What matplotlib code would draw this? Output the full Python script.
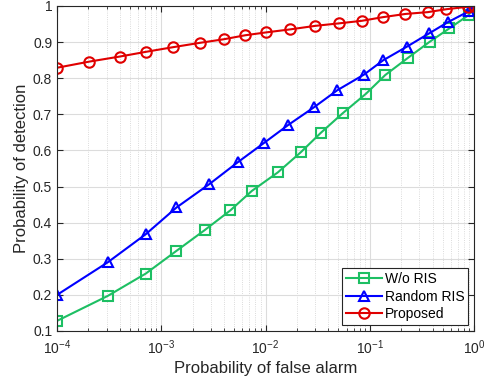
import numpy as np
import matplotlib.pyplot as plt

plt.rcParams['font.family'] = ['Liberation Sans', 'DejaVu Sans']
plt.rcParams['mathtext.fontset'] = 'custom'
plt.rcParams['mathtext.rm'] = 'Liberation Sans'
plt.rcParams['mathtext.it'] = 'Liberation Sans:italic'
plt.rcParams['mathtext.bf'] = 'Liberation Sans:bold'

# Probability of false alarm values
pfa_wo = [1e-4, 3.06e-4, 7.1e-4, 1.4e-3, 2.6e-3, 4.6e-3, 7.4e-3, 0.0131, 0.0218,
          0.034, 0.055, 0.092, 0.141, 0.234, 0.376, 0.58, 0.89, 1.0]
pd_wo = [0.128, 0.197, 0.259, 0.322, 0.379, 0.434, 0.488, 0.539, 0.595,
         0.649, 0.703, 0.757, 0.809, 0.857, 0.901, 0.938, 0.975, 1.0]

pfa_rand = [1e-4, 3.06e-4, 7.1e-4, 1.4e-3, 2.9e-3, 5.4e-3, 9.7e-3, 0.0166, 0.029,
            0.049, 0.088, 0.135, 0.226, 0.37, 0.56, 0.90, 1.0]
pd_rand = [0.200, 0.290, 0.368, 0.442, 0.507, 0.567, 0.621, 0.671, 0.719,
           0.767, 0.810, 0.850, 0.887, 0.924, 0.955, 0.986, 1.0]

pfa_prop = [1e-4, 2.04e-4, 4.0e-4, 7.1e-4, 1.3e-3, 2.35e-3, 4.0e-3, 6.4e-3, 0.0102,
            0.017, 0.030, 0.051, 0.084, 0.133, 0.22, 0.36, 0.54, 0.875, 1.0]
pd_prop = [0.829, 0.846, 0.860, 0.873, 0.886, 0.898, 0.908, 0.919, 0.927,
           0.935, 0.945, 0.952, 0.959, 0.969, 0.978, 0.983, 0.991, 0.998, 1.0]

fig = plt.figure(figsize=(4.88, 3.84), dpi=100)
ax = fig.add_axes([57/488, 1-331/384, (474-57)/488, (331-6)/384])

ax.semilogx(pfa_wo, pd_wo, '-s', color='#1dbf63', mfc='none', ms=6.5, mew=1.5,
            lw=1.5, label='W/o RIS')
ax.semilogx(pfa_rand, pd_rand, '-^', color='#0000ff', mfc='none', ms=7.5, mew=1.5,
            lw=1.5, label='Random RIS')
ax.semilogx(pfa_prop, pd_prop, '-o', color='#e00000', mfc='none', ms=7.5, mew=1.5,
            lw=1.5, label='Proposed')

ax.set_xlim(1e-4, 1)
ax.set_ylim(0.1, 1)
ax.set_yticks(np.arange(0.1, 1.01, 0.1))
ax.set_yticklabels(['0.1', '0.2', '0.3', '0.4', '0.5', '0.6', '0.7', '0.8', '0.9', '1'])

ax.grid(True, which='major', color='#dcdcdc', lw=0.8)
ax.grid(True, which='minor', color='#cfcfcf', lw=0.6, ls=':')
ax.set_axisbelow(True)
ax.tick_params(which='both', direction='in', top=True, right=True,
               labelsize=10, colors='#262626')
ax.tick_params(which='major', length=4)
ax.tick_params(which='minor', length=2)
ax.tick_params(axis='x', pad=5)
for s in ax.spines.values():
    s.set_color('#262626')
    s.set_linewidth(0.8)

ax.set_xlabel('Probability of false alarm', fontsize=12, color='#262626', labelpad=3)
ax.set_ylabel('Probability of detection', fontsize=12, color='#262626', labelpad=3)

leg = ax.legend(loc='lower right', fontsize=10, fancybox=False, edgecolor='#262626',
                framealpha=1, handlelength=2.6, handletextpad=0.2, borderpad=0.3,
                labelspacing=0.25, borderaxespad=0.4)
leg.get_frame().set_linewidth(0.8)

fig.savefig('out.png', dpi=100)
